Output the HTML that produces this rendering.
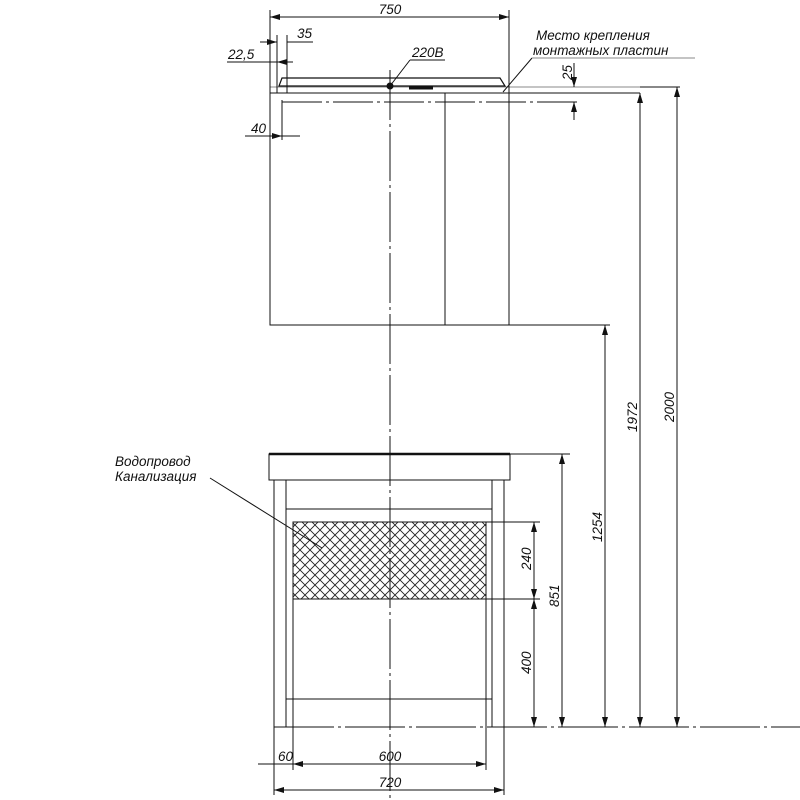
<!DOCTYPE html>
<html><head><meta charset="utf-8"><style>body{margin:0;background:#fff}svg{display:block}text{font-family:"Liberation Sans",sans-serif;font-style:italic;fill:#111}</style></head>
<body>
<svg width="800" height="800" viewBox="0 0 800 800" xmlns="http://www.w3.org/2000/svg">
<defs>
<marker id="a" viewBox="0 0 10 6" refX="10" refY="3" markerWidth="10" markerHeight="6" orient="auto-start-reverse" markerUnits="userSpaceOnUse"><path d="M0,0L10,3L0,6z" fill="#111"/></marker>
<pattern id="h" width="10" height="10" patternUnits="userSpaceOnUse"><path d="M0,0L10,10M10,0L0,10" stroke="#222" stroke-width="0.9"/></pattern>
</defs>
<g stroke="#111" stroke-width="1" fill="none">
<rect x="270" y="93" width="239" height="232"/>
<line x1="445" y1="93" x2="445" y2="325"/>
<line x1="270" y1="87" x2="640" y2="87" stroke="#888"/>
<line x1="509" y1="93" x2="640" y2="93"/>
<path d="M279,86L282,78L500,78L505,86Z" stroke-width="1.2"/>
<line x1="282" y1="102" x2="578" y2="102" stroke-dasharray="40,4,3,4"/>
<line x1="409" y1="88" x2="433" y2="88" stroke-width="3"/>
<circle cx="390" cy="86" r="3" fill="#111"/>
<line x1="390" y1="70" x2="390" y2="800" stroke-dasharray="50,4,3,4"/>
<line x1="270" y1="10" x2="270" y2="93"/><line x1="509" y1="10" x2="509" y2="93"/>
<line x1="270" y1="17" x2="509" y2="17" marker-start="url(#a)" marker-end="url(#a)"/>
<line x1="277" y1="35" x2="277" y2="93"/><line x1="287" y1="35" x2="287" y2="93"/>
<line x1="260" y1="42" x2="277" y2="42" marker-end="url(#a)"/><line x1="287" y1="42" x2="313" y2="42"/>
<line x1="227" y1="62" x2="277" y2="62"/><line x1="277" y1="62" x2="293" y2="62" marker-start="url(#a)"/>
<line x1="282" y1="100" x2="282" y2="140"/>
<line x1="245" y1="136" x2="282" y2="136" marker-end="url(#a)"/><line x1="282" y1="136" x2="300" y2="136"/>
<line x1="574" y1="63" x2="574" y2="87" marker-end="url(#a)"/><line x1="574" y1="102" x2="574" y2="120" marker-start="url(#a)"/>
<line x1="390" y1="86" x2="410" y2="60"/><line x1="410" y1="60" x2="445" y2="60"/>
<line x1="503" y1="92" x2="532" y2="58"/><line x1="532" y1="58" x2="695" y2="58" stroke="#888"/>
<rect x="269" y="454" width="241" height="26"/>
<line x1="269" y1="454" x2="510" y2="454" stroke-width="2.5"/>
<rect x="274" y="480" width="12" height="247"/>
<rect x="492" y="480" width="12" height="247"/>
<line x1="286" y1="509" x2="492" y2="509"/>
<line x1="286" y1="699" x2="492" y2="699"/>
<rect x="293" y="522" width="193" height="77" fill="url(#h)"/>
<line x1="293" y1="522" x2="293" y2="727"/><line x1="486" y1="522" x2="486" y2="727"/>
<line x1="274" y1="727" x2="800" y2="727" stroke-dasharray="60,4,3,4"/>
<line x1="510" y1="454" x2="570" y2="454"/>
<line x1="486" y1="522" x2="540" y2="522"/><line x1="486" y1="599" x2="540" y2="599"/>
<line x1="534" y1="522" x2="534" y2="599" marker-start="url(#a)" marker-end="url(#a)"/>
<line x1="534" y1="599" x2="534" y2="727" marker-start="url(#a)" marker-end="url(#a)"/>
<line x1="562" y1="454" x2="562" y2="727" marker-start="url(#a)" marker-end="url(#a)"/>
<line x1="509" y1="325" x2="610" y2="325"/>
<line x1="605" y1="325" x2="605" y2="727" marker-start="url(#a)" marker-end="url(#a)"/>
<line x1="640" y1="93" x2="640" y2="727" marker-start="url(#a)" marker-end="url(#a)"/>
<line x1="640" y1="87" x2="680" y2="87"/>
<line x1="677" y1="87" x2="677" y2="727" marker-start="url(#a)" marker-end="url(#a)"/>
<line x1="274" y1="727" x2="274" y2="795"/><line x1="504" y1="727" x2="504" y2="795"/>
<line x1="293" y1="727" x2="293" y2="770"/><line x1="486" y1="727" x2="486" y2="770"/>
<line x1="258" y1="764" x2="293" y2="764"/>
<line x1="293" y1="764" x2="486" y2="764" marker-start="url(#a)" marker-end="url(#a)"/>
<line x1="274" y1="790" x2="504" y2="790" marker-start="url(#a)" marker-end="url(#a)"/>
<line x1="210" y1="478" x2="322" y2="548"/>
</g>
<g font-size="13.5">
<text x="390" y="14" text-anchor="middle">750</text>
<text x="297" y="38">35</text>
<text x="228" y="59">22,5</text>
<text x="412" y="57">220В</text>
<text x="536" y="40">Место крепления</text>
<text x="533" y="55">монтажных пластин</text>
<text x="251" y="133">40</text>
<text x="115" y="466">Водопровод</text>
<text x="115" y="481">Канализация</text>
<text x="278" y="761">60</text>
<text x="390" y="761" text-anchor="middle">600</text>
<text x="390" y="787" text-anchor="middle">720</text>
<text transform="translate(572,80) rotate(-90)">25</text>
<text transform="translate(531,570) rotate(-90)">240</text>
<text transform="translate(531,674) rotate(-90)">400</text>
<text transform="translate(559,607) rotate(-90)">851</text>
<text transform="translate(602,542) rotate(-90)">1254</text>
<text transform="translate(637,432) rotate(-90)">1972</text>
<text transform="translate(674,422) rotate(-90)">2000</text>
</g>
</svg>
</body></html>
